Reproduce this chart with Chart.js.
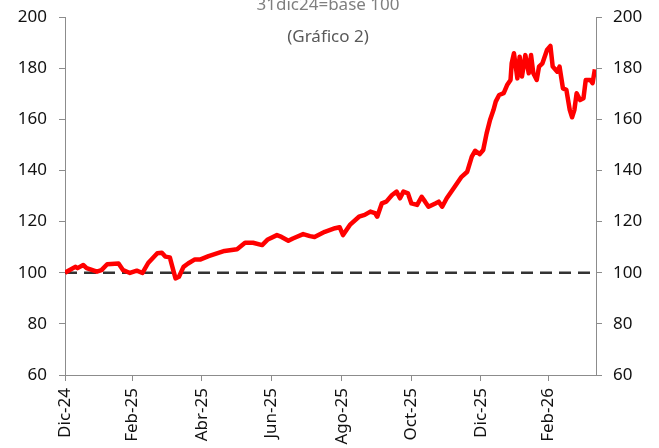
<!DOCTYPE html>
<html>
<head>
<meta charset="utf-8">
<script src="https://cdn.jsdelivr.net/npm/chart.js@4/dist/chart.umd.min.js"></script>
<style>
  html, body { margin: 0; padding: 0; background: #fff; }
</style>
</head>
<body>
<canvas id="grafico" width="659" height="448"></canvas>
<script>
// días desde 31dic24 y valor del índice (31dic24 = base 100)
const dias = [0, 9, 11, 16, 19, 28, 32, 37, 47, 51, 57, 63, 68, 73, 81, 85, 88, 92, 95, 97, 100, 104, 108, 114, 119, 126,
  140, 151, 158, 165, 173, 178, 186, 190, 196, 200, 209, 215, 219, 228, 237, 241, 244, 250,
  258, 263, 268, 272, 274, 278, 282, 287, 291, 294, 297, 301, 304, 309, 313, 316, 319, 325, 328, 331, 335,
  342, 348, 353, 357, 360, 364, 367, 370, 373, 376, 378, 381, 385, 388, 391,
  392, 394, 397, 399, 401, 404, 407, 409, 411, 414, 416, 419, 423, 426, 428, 432, 434, 437, 440,
  443, 445, 447, 449, 452, 455, 457, 461, 463, 465];
const indice = [100, 102.3, 101.8, 103, 101.8, 100.4, 101, 103.3, 103.6, 101, 99.9, 100.8, 99.9, 103.8, 107.6, 107.8, 106.3, 106, 101, 97.8, 98.4, 102.3, 103.6, 105.2, 105.2, 106.5,
  108.5, 109.2, 111.7, 111.7, 110.8, 113, 114.7, 114, 112.5, 113.4, 115.1, 114.3, 114, 116, 117.4, 117.8, 114.7, 118.7,
  121.9, 122.6, 123.9, 123.3, 121.9, 127.1, 127.8, 130.4, 131.7, 129.1, 131.7, 131, 127.1, 126.5, 129.7, 127.8, 125.8, 127.1, 127.8, 125.8, 129.1,
  133.6, 137.5, 139.5, 145.4, 147.7, 146.4, 148, 154.5, 159.7, 163.6, 166.9, 169.5, 170.2, 173.4, 175.4,
  181.9, 185.8, 176, 184.5, 176.7, 185.1, 178, 185.1, 178, 175.4, 180.6, 181.9, 187.1, 188.7, 180.6, 178.6, 180.6, 172.1, 171.5,
  163.6, 160.8, 163.6, 170.2, 167.5, 168.2, 175.4, 175.4, 174.1, 179.5];

const diasTicks = [0, 59, 120, 181, 243, 304, 365, 424];
const etiquetasTicks = ["Dic-24", "Feb-25", "Abr-25", "Jun-25", "Ago-25", "Oct-25", "Dic-25", "Feb-26"];
const base = 100;
const diaFinal = 466;

const serie = dias.map((d, i) => ({ x: d, y: indice[i] }));
const lineaBase = [{ x: 0, y: base }, { x: diaFinal, y: base }];

const fuente = { family: "'Noto Sans', 'Open Sans', sans-serif", size: 17 };
const gris = "#8c8c8c";

// textos de cabecera
const cabecera = {
  id: "cabecera",
  afterDraw(chart) {
    const ctx = chart.ctx;
    ctx.save();
    ctx.textAlign = "center";
    ctx.textBaseline = "middle";
    ctx.font = "17px 'Noto Sans', sans-serif";
    ctx.fillStyle = "#7f7f7f";
    ctx.fillText("31dic24=base 100", 328, 5);
    ctx.fillStyle = "#595959";
    ctx.fillText("(Gráfico 2)", 328, 37);
    ctx.restore();
  }
};

const ejeY = (pos, ancho, pad) => ({
  type: "linear",
  position: pos,
  min: 60,
  max: 200,
  ticks: { stepSize: 20, color: "#111", font: fuente, padding: pad },
  grid: { drawOnChartArea: false, tickLength: 6, color: gris },
  border: { display: true, color: gris, width: 1 },
  afterFit(scale) {
    scale.width = ancho;
    scale.paddingTop = 0;
    scale.paddingBottom = 0;
  }
});

new Chart(document.getElementById("grafico"), {
  type: "line",
  data: {
    datasets: [
      {
        data: serie,
        borderColor: "#ff0000",
        borderWidth: 4.5,
        pointRadius: 0,
        tension: 0,
        borderJoinStyle: "round",
        order: 1
      },
      {
        data: lineaBase,
        borderColor: "#333333",
        borderWidth: 2.5,
        borderDash: [12, 7],
        pointRadius: 0,
        order: 2
      }
    ]
  },
  options: {
    responsive: false,
    animation: false,
    layout: { padding: { top: 17, left: 0, right: 0, bottom: 0 } },
    plugins: { legend: { display: false }, tooltip: { enabled: false } },
    scales: {
      x: {
        type: "linear",
        min: 0,
        max: diaFinal,
        afterBuildTicks(scale) {
          scale.ticks = diasTicks.map(v => ({ value: v }));
        },
        ticks: {
          autoSkip: false,
          minRotation: 90,
          maxRotation: 90,
          color: "#111",
          font: fuente,
          padding: 7,
          callback(v) {
            const i = diasTicks.indexOf(v);
            return i >= 0 ? etiquetasTicks[i] : "";
          }
        },
        grid: { drawOnChartArea: false, tickLength: 6, color: gris },
        border: { display: true, color: gris, width: 1 },
        afterFit(scale) { scale.height = 73; }
      },
      y: ejeY("left", 65, 12),
      y2: ejeY("right", 63, 11)
    }
  },
  plugins: [cabecera]
});
</script>
</body>
</html>
